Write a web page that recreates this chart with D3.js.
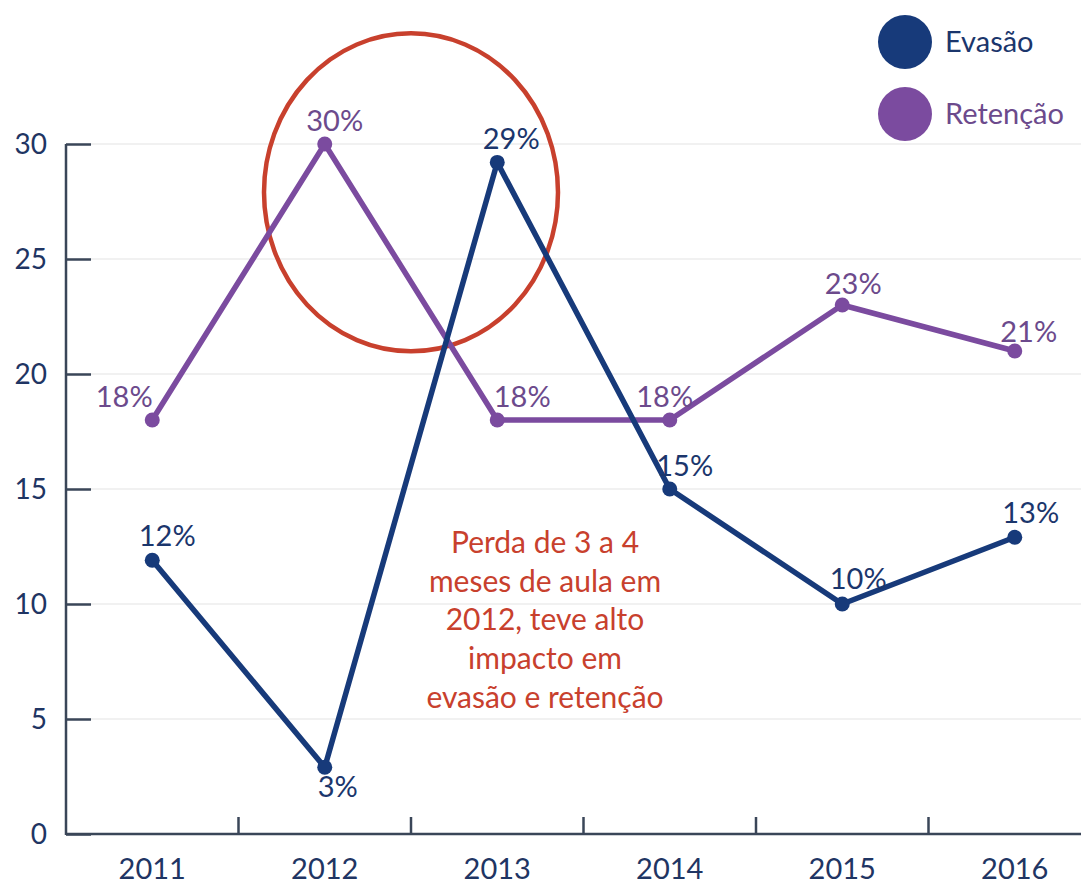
<!DOCTYPE html>
<html>
<head>
<meta charset="utf-8">
<script src="https://cdn.jsdelivr.net/npm/d3@7"></script>
<style>
  body { margin: 0; background: #fff; }
  svg { display: block; font-family: Lato, "Open Sans", sans-serif; }
</style>
</head>
<body>
<svg id="chart" width="1081" height="887"></svg>
<script>
// data
var years = ["2011", "2012", "2013", "2014", "2015", "2016"];
var evasao = [11.9, 2.9, 29.2, 15, 10, 12.9];
var evasaoLabels = ["12%", "3%", "29%", "15%", "10%", "13%"];
var retencao = [18, 30, 18, 18, 23, 21];
var retencaoLabels = ["18%", "30%", "18%", "18%", "23%", "21%"];
var yTicks = [0, 5, 10, 15, 20, 25, 30];
var note = ["Perda de 3 a 4", "meses de aula em", "2012, teve alto", "impacto em", "evasão e retenção"];

// label nudges (dx, dy) so they sit where the original put them
var evasaoOff = [[15, -14], [13, 30], [14, -13], [15, -13], [16, -15], [16, -14]];
var retencaoOff = [[-28, -13], [10, -13], [25, -13], [-5, -13], [11, -11], [14, -9]];

var navy = "#173a7a", purple = "#7b4b9f", red = "#c8402d", axisCol = "#3a4658";

var svg = d3.select("#chart");
var left = 66, bottom = 834;

var x = d3.scaleBand().domain(years).range([left, left + 6 * 172.5]);
var y = d3.scaleLinear().domain([0, 30]).range([bottom, 144]);
var cx = function(d, i) { return x(years[i]) + x.bandwidth() / 2; };

// grid
svg.append("g").selectAll("line").data(yTicks.slice(1)).join("line")
  .attr("x1", left).attr("x2", 1081)
  .attr("y1", d => y(d)).attr("y2", d => y(d))
  .attr("stroke", "#ececec").attr("stroke-width", 1.5);

// y axis
var ya = svg.append("g").attr("transform", "translate(" + left + ",0)")
  .call(d3.axisRight(y).tickValues(yTicks).tickSize(25).tickFormat(""));
ya.select(".domain").attr("stroke", axisCol).attr("stroke-width", 2.5).attr("d", "M0," + (bottom + 1) + "V" + y(30));
ya.selectAll(".tick line").attr("stroke", axisCol).attr("stroke-width", 2.5);
svg.append("g").selectAll("text").data(yTicks).join("text")
  .attr("x", 47).attr("y", d => y(d) + 10)
  .attr("text-anchor", "end")
  .attr("font-size", 28).attr("fill", "#1f3563")
  .text(d => d);

// x axis, ticks at band edges pointing up
var xa = svg.append("g").attr("transform", "translate(0," + bottom + ")");
xa.append("line").attr("x1", left).attr("x2", 1081)
  .attr("stroke", axisCol).attr("stroke-width", 2.5);
xa.selectAll("line.t").data(years.slice(1)).join("line").attr("class", "t")
  .attr("x1", d => x(d)).attr("x2", d => x(d))
  .attr("y1", 0).attr("y2", -17)
  .attr("stroke", axisCol).attr("stroke-width", 2.5);
xa.selectAll("text").data(years).join("text")
  .attr("x", d => x(d) + x.bandwidth() / 2).attr("y", 45)
  .attr("text-anchor", "middle")
  .attr("font-size", 29).attr("fill", "#1f3563")
  .text(d => d);

// highlight ellipse around 2012/2013 peaks
svg.append("ellipse")
  .attr("cx", (x("2012") + x("2013") + x.bandwidth()) / 2)
  .attr("cy", y(27.9))
  .attr("rx", 147).attr("ry", 159)
  .attr("fill", "none").attr("stroke", red).attr("stroke-width", 4.5);

function series(vals, labels, off, col, txtCol) {
  var line = d3.line().x(cx).y(d => y(d));
  svg.append("path").datum(vals)
    .attr("d", line)
    .attr("fill", "none").attr("stroke", col)
    .attr("stroke-width", 5.5).attr("stroke-linejoin", "round");
  svg.append("g").selectAll("circle").data(vals).join("circle")
    .attr("cx", cx).attr("cy", d => y(d)).attr("r", 7.5)
    .attr("fill", col);
  svg.append("g").selectAll("text").data(vals).join("text")
    .attr("x", (d, i) => cx(d, i) + off[i][0])
    .attr("y", (d, i) => y(d) + off[i][1])
    .attr("text-anchor", "middle")
    .attr("font-size", 29).attr("fill", txtCol)
    .text((d, i) => labels[i]);
}
series(retencao, retencaoLabels, retencaoOff, purple, "#6c4a8c");
series(evasao, evasaoLabels, evasaoOff, navy, "#1b366c");

// note
svg.append("g").selectAll("text").data(note).join("text")
  .attr("x", 545).attr("y", (d, i) => 553 + i * 38.7)
  .attr("text-anchor", "middle")
  .attr("font-size", 30).attr("fill", red)
  .text(d => d);

// legend
var legend = [["Evasão", navy], ["Retenção", purple]];
var lg = svg.append("g").selectAll("g").data(legend).join("g")
  .attr("transform", (d, i) => "translate(905," + (42 + i * 72) + ")");
lg.append("circle").attr("r", 27).attr("fill", d => d[1]);
lg.append("text").attr("x", 40).attr("y", 10)
  .attr("font-size", 29).attr("fill", (d, i) => i ? "#6c4a8c" : "#1b366c")
  .text(d => d[0]);
</script>
</body>
</html>
